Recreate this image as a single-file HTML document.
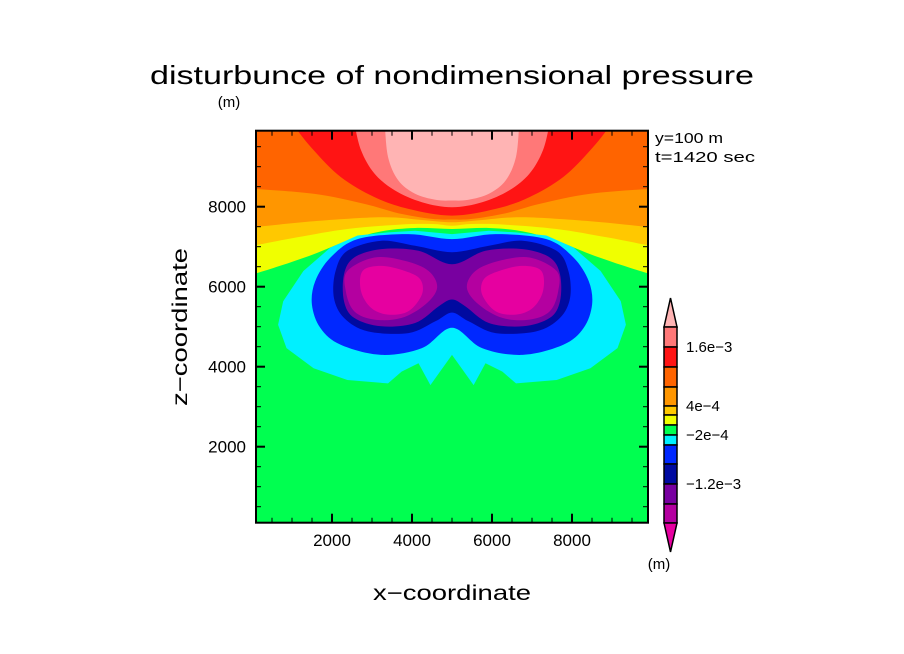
<!DOCTYPE html>
<html><head><meta charset="utf-8"><style>
html,body{margin:0;padding:0;background:#fff;}
svg{display:block;font-family:"Liberation Sans",sans-serif;}
</style></head><body>
<svg id="chart" width="904" height="654" viewBox="0 0 904 654">
<defs><clipPath id="plotclip"><rect x="256" y="130.7" width="392" height="392"/></clipPath></defs>
<rect x="0" y="0" width="904" height="654" fill="#fff"/>
<text x="452" y="84" text-anchor="middle" font-size="26" textLength="604" lengthAdjust="spacingAndGlyphs">disturbunce of nondimensional pressure</text>
<text x="229" y="107" text-anchor="middle" font-size="15">(m)</text>
<g id="field" clip-path="url(#plotclip)"></g>
<g id="axes"></g>
<text x="655" y="143" font-size="15" textLength="68" lengthAdjust="spacingAndGlyphs">y=100 m</text>
<text x="655" y="162" font-size="15" textLength="100" lengthAdjust="spacingAndGlyphs">t=1420 sec</text>
<text x="452" y="600" text-anchor="middle" font-size="21" textLength="158" lengthAdjust="spacingAndGlyphs">x−coordinate</text>
<text transform="translate(187,327) rotate(-90)" text-anchor="middle" font-size="21" textLength="158" lengthAdjust="spacingAndGlyphs">z−coordinate</text>
<g id="cbar"></g>
<text x="659" y="569" text-anchor="middle" font-size="15">(m)</text>
</svg>
<script>
// ---- data ----
const xDomain = [100, 9900];
const zDomain = [100, 9900];
const xTicks = [2000, 4000, 6000, 8000];
const zTicks = [2000, 4000, 6000, 8000];
const levels = [2e-3, 1.6e-3, 1.2e-3, 8e-4, 4e-4, 2e-4, 0, -2e-4, -4e-4, -8e-4, -1.2e-3, -1.6e-3, -2e-3];
const levelColors = ["#ffb4b4","#ff7878","#ff1414","#ff6400","#ff9600","#ffc800","#f0ff00","#00ff50","#00f0ff","#0028ff","#000aa0","#7800a0","#b400a0","#e600a0"];
const cbarLabels = ["1.6e-3", "4e-4", "-2e-4", "-1.2e-3"];
const cbarLabelLevels = [1.6e-3, 4e-4, -2e-4, -1.2e-3];
// half-contours (left half, symmetric about x=5000), in meters [x, z]
const bandOrange = [[0,8449],[1540,8323],[2809,8071],[3655,7837],[4501,7694],[5000,7680]];
const bandLightOrange = [[0,7484],[1540,7635],[3232,7736],[4247,7668],[5000,7610]];
const bandGold = [[0,7023],[1117,7232],[2386,7442],[3655,7551],[4501,7568],[5000,7526]];
const bandYellow = [[0,6309],[694,6519],[1540,6813],[2386,7149],[3232,7383],[4078,7467],[5000,7442]];
const capRed = [[1060,10100],[1117,9934],[1540,9414],[2217,8743],[3063,8239],[3909,7946],[5000,7778]];
const capSalmon = [[2555,10100],[2724,9414],[3063,8827],[3570,8407],[4247,8113],[5000,7988]];
const capPink = [[3317,10100],[3401,9246],[3655,8659],[4078,8323],[4586,8172],[5000,8155]];
const blobCyan = [[5000,7316],[4078,7400],[3401,7358],[2640,7280],[1963,6981],[1286,6393],[779,5638],[652,5051],[863,4464],[1540,3960],[2386,3667],[3401,3583],[3740,3877],[4163,4086],[4459,3541],[5000,4296]];
const blobBlue = [[5000,7190],[3909,7316],[2640,7190],[1963,6729],[1582,6142],[1498,5554],[1709,4968],[2217,4548],[3232,4296],[4247,4464],[5000,4976]];
const blobNavy = [[5000,6863],[4078,7023],[3232,7149],[2386,6897],[2090,6393],[2048,5722],[2301,5219],[2894,4883],[3909,4841],[4586,5135],[5000,5353]];
const blobPurple = [[5000,6561],[4163,6897],[3232,6939],[2555,6729],[2301,6309],[2301,5638],[2555,5219],[3232,5009],[4078,5093],[4670,5512],[5000,5680]];
const lobeMagenta = [[3063,6729],[3824,6645],[4416,6393],[4628,5974],[4332,5554],[3740,5219],[3063,5177],[2555,5387],[2344,5890],[2386,6393]];
const lobeHot = [[3232,6519],[3824,6393],[4205,6184],[4247,5806],[3909,5387],[3401,5303],[2978,5471],[2724,5890],[2766,6393]];

// ---- scales ----
const PX0 = 256, PX1 = 648, PY0 = 522.7, PY1 = 130.7;
function xs(x){ return PX0 + (x - xDomain[0]) / (xDomain[1] - xDomain[0]) * (PX1 - PX0); }
function zs(z){ return PY0 + (z - zDomain[0]) / (zDomain[1] - zDomain[0]) * (PY1 - PY0); }
const NS = "http://www.w3.org/2000/svg";
const field = document.getElementById('field');
const mirror = p => [10000 - p[0], p[1]];
const toPx = p => [xs(p[0]), zs(p[1])];
const f = v => v.toFixed(1);
function smoothOpen(pts){ // pts in px; returns C segments starting after pts[0]
  let d = '';
  const n = pts.length;
  for (let i = 0; i < n - 1; i++){
    const p0 = pts[Math.max(i-1,0)], p1 = pts[i], p2 = pts[i+1], p3 = pts[Math.min(i+2,n-1)];
    const c1 = [p1[0] + (p2[0]-p0[0])/6, p1[1] + (p2[1]-p0[1])/6];
    const c2 = [p2[0] - (p3[0]-p1[0])/6, p2[1] - (p3[1]-p1[1])/6];
    d += 'C' + f(c1[0]) + ',' + f(c1[1]) + ' ' + f(c2[0]) + ',' + f(c2[1]) + ' ' + f(p2[0]) + ',' + f(p2[1]);
  }
  return d;
}
function smoothClosed(pts){
  const n = pts.length;
  let d = 'M' + f(pts[0][0]) + ',' + f(pts[0][1]);
  for (let i = 0; i < n; i++){
    const p0 = pts[(i-1+n)%n], p1 = pts[i], p2 = pts[(i+1)%n], p3 = pts[(i+2)%n];
    const c1 = [p1[0] + (p2[0]-p0[0])/6, p1[1] + (p2[1]-p0[1])/6];
    const c2 = [p2[0] - (p3[0]-p1[0])/6, p2[1] - (p3[1]-p1[1])/6];
    d += 'C' + f(c1[0]) + ',' + f(c1[1]) + ' ' + f(c2[0]) + ',' + f(c2[1]) + ' ' + f(p2[0]) + ',' + f(p2[1]);
  }
  return d + 'Z';
}
function addD(d, color, name){
  const el = document.createElementNS(NS, 'path');
  el.setAttribute('d', d);
  el.setAttribute('fill', color);
  
  
  field.appendChild(el);
}
function linearD(pts){ return 'M' + pts.map(p => { const q = toPx(p); return f(q[0]) + ',' + f(q[1]); }).join('L') + 'Z'; }
addD(linearD([[-500,-500],[10500,-500],[10500,10500],[-500,10500]]), levelColors[7], 'field-background');
function band(half, color, name){
  const full = [[-300, half[0][1]]].concat(half, half.slice(0, -1).reverse().map(mirror), [[10300, half[0][1]]]);
  const px = full.map(toPx);
  let d = 'M' + f(px[0][0]) + ',' + f(px[0][1]) + smoothOpen(px);
  d += 'L' + f(xs(10500)) + ',' + f(zs(10500)) + 'L' + f(xs(-500)) + ',' + f(zs(10500)) + 'Z';
  addD(d, color, name);
}
function cap(half, color, name){
  const full = half.concat(half.slice(0, -1).reverse().map(mirror));
  const px = full.map(toPx);
  addD('M' + f(px[0][0]) + ',' + f(px[0][1]) + smoothOpen(px) + 'Z', color, name);
}
function blob(half, color, name, smooth){
  const full = half.concat(half.slice(1, -1).reverse().map(mirror));
  addD(smooth ? smoothClosed(full.map(toPx)) : linearD(full), color, name);
}
band(bandYellow, levelColors[6], 'band-yellow');
band(bandGold, levelColors[5], 'band-gold');
band(bandLightOrange, levelColors[4], 'band-light-orange');
band(bandOrange, levelColors[3], 'band-orange');
cap(capRed, levelColors[2], 'cap-red');
cap(capSalmon, levelColors[1], 'cap-salmon');
cap(capPink, levelColors[0], 'cap-pink');
blob(blobCyan, levelColors[8], 'blob-cyan', false);
blob(blobBlue, levelColors[9], 'blob-blue', true);
blob(blobNavy, levelColors[10], 'blob-navy', true);
blob(blobPurple, levelColors[11], 'blob-purple', true);
addD(smoothClosed(lobeMagenta.map(toPx)), levelColors[12], 'lobe-magenta-left');
addD(smoothClosed(lobeMagenta.map(mirror).map(toPx)), levelColors[12], 'lobe-magenta-right');
addD(smoothClosed(lobeHot.map(toPx)), levelColors[13], 'lobe-hot-left');
addD(smoothClosed(lobeHot.map(mirror).map(toPx)), levelColors[13], 'lobe-hot-right');

// ---- axes ----
const axes = document.getElementById('axes');
function line(x1,y1,x2,y2,w,name){
  const l = document.createElementNS(NS,'line');
  l.setAttribute('x1',x1); l.setAttribute('y1',y1); l.setAttribute('x2',x2); l.setAttribute('y2',y2);
  l.setAttribute('stroke','#000'); l.setAttribute('stroke-width',w);
  
  
  axes.appendChild(l);
}
function text(x,y,s,anchor,size,name,parent){
  const t = document.createElementNS(NS,'text');
  t.setAttribute('x',x); t.setAttribute('y',y); t.setAttribute('text-anchor',anchor);
  t.setAttribute('font-size',size); t.textContent = s;
  
  
  (parent||axes).appendChild(t);
}
const frame = document.createElementNS(NS,'rect');
frame.setAttribute('x',PX0); frame.setAttribute('y',PY1); frame.setAttribute('width',PX1-PX0); frame.setAttribute('height',PY0-PY1);
frame.setAttribute('fill','none'); frame.setAttribute('stroke','#000'); frame.setAttribute('stroke-width','2');


axes.appendChild(frame);
for (let v = 500; v < 9900; v += 500){
  const major = v % 2000 === 0;
  const L = major ? 9 : 5, w = major ? 2 : 1;
  const x = xs(v), y = zs(v);
  line(x, PY0, x, PY0 - L, w, 'x-tick-bottom');
  line(x, PY1, x, PY1 + L, w, 'x-tick-top');
  line(PX0, y, PX0 + L, y, w, 'z-tick-left');
  line(PX1, y, PX1 - L, y, w, 'z-tick-right');
}
xTicks.forEach(v => text(xs(v), 546, String(v), 'middle', 17, 'x-tick-label'));
zTicks.forEach(v => text(246, zs(v) + 6, String(v), 'end', 17, 'z-tick-label'));

// ---- colorbar ----
const cbar = document.getElementById('cbar');
const cbX0 = 664, cbX1 = 677;
const cbEdges = [327,347,367,387,406,415,425,435,445,464,484,504,523];
function cbY(level){ const i = levels.indexOf(level); return cbEdges[i]; }
function poly(pts, color, name){
  const p = document.createElementNS(NS,'polygon');
  p.setAttribute('points', pts.map(q => q.join(',')).join(' '));
  p.setAttribute('fill', color); p.setAttribute('stroke','#000'); p.setAttribute('stroke-width','1.5');
  
  
  cbar.appendChild(p);
}
poly([[cbX0, cbY(levels[0])],[ (cbX0+cbX1)/2, 298],[cbX1, cbY(levels[0])]], levelColors[0], 'colorbar-top-arrow');
for (let i = 0; i < levels.length - 1; i++){
  const y0 = cbY(levels[i]), y1 = cbY(levels[i+1]);
  poly([[cbX0,y0],[cbX1,y0],[cbX1,y1],[cbX0,y1]], levelColors[i+1], 'colorbar-segment');
}
poly([[cbX0, cbY(levels[levels.length-1])],[(cbX0+cbX1)/2, 552],[cbX1, cbY(levels[levels.length-1])]], levelColors[13], 'colorbar-bottom-arrow');
cbarLabels.forEach((s, i) => text(686, cbY(cbarLabelLevels[i]) + 5, s.replace(/-/g,'−'), 'start', 15, 'colorbar-label', cbar));
</script>
</body></html>
